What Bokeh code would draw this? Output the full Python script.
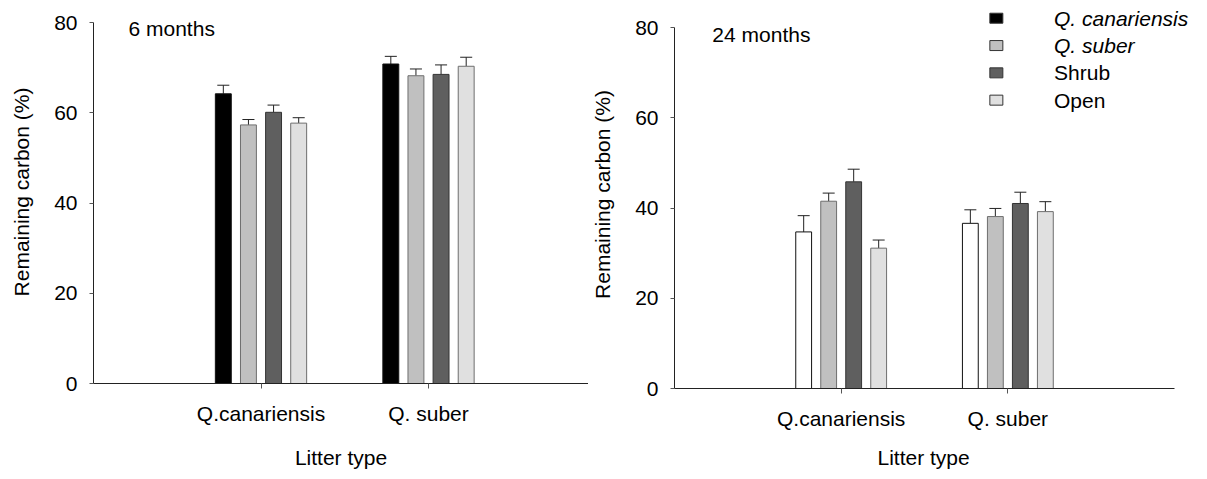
from bokeh.plotting import figure
from bokeh.layouts import row, column
from bokeh.models import Range1d, FixedTicker, Label, ColumnDataSource, Title
from bokeh.embed import file_html
from bokeh.resources import INLINE

# ---------------- data ----------------
litter_types = ["Q.canariensis", "Q. suber"]
series = ["Q. canariensis", "Q. suber", "Shrub", "Open"]
series_italic = [True, True, False, False]
y_ticks = [0, 20, 40, 60, 80]

# 6 months: remaining carbon (%) per series, for each litter type
m6_canariensis = [64.2, 57.3, 60.1, 57.7]
m6_suber = [70.8, 68.2, 68.5, 70.3]
se6_canariensis = [1.9, 1.2, 1.6, 1.2]
se6_suber = [1.7, 1.5, 2.1, 2.0]

# 24 months
m24_canariensis = [34.7, 41.5, 45.8, 31.1]
m24_suber = [36.6, 38.1, 41.0, 39.2]
se24_canariensis = [3.6, 1.8, 2.8, 1.8]
se24_suber = [3.0, 1.8, 2.5, 2.2]

fills_6 = ["#000000", "#c0c0c0", "#5f5f5f", "#e0e0e0"]
fills_24 = ["#ffffff", "#c0c0c0", "#5f5f5f", "#e0e0e0"]
edges = ["#111111", "#6e6e6e", "#333333", "#6e6e6e"]
legend_fills = ["#000000", "#c0c0c0", "#5f5f5f", "#e0e0e0"]

FONT = "Liberation Sans"
FS = "21px"
BAR_W = 0.095
PITCH = 0.15
CAP = 0.036


def make_panel(width, height, mb_left, mb_bottom, x_end, y_end,
               means, ses, fills, tag, tag_x, tag_y, lab_std, xlab_std,
               use_axis_label=True):
    p = figure(width=width, height=height, output_backend="svg",
               toolbar_location=None, x_range=Range1d(0, x_end),
               y_range=Range1d(0, y_end), min_border_left=mb_left,
               min_border_right=0, min_border_top=0,
               min_border_bottom=mb_bottom)
    p.outline_line_color = None
    p.grid.visible = False

    xs, tops, cols, lcols, ups = [], [], [], [], []
    for gi, (mvals, svals) in enumerate(zip(means, ses)):
        for si in range(len(series)):
            xs.append(gi + 1 + (si - 1.5) * PITCH)
            tops.append(mvals[si])
            ups.append(mvals[si] + svals[si])
            cols.append(fills[si])
            lcols.append(edges[si])
    src = ColumnDataSource(dict(x=xs, top=tops, up=ups, fill=cols, line=lcols,
                                xl=[v - CAP for v in xs], xr=[v + CAP for v in xs]))
    p.segment(x0="x", y0="top", x1="x", y1="up", source=src,
              line_color="#222222", line_width=1)
    p.segment(x0="xl", y0="up", x1="xr", y1="up", source=src,
              line_color="#222222", line_width=1)
    p.vbar(x="x", top="top", bottom=0, width=BAR_W, source=src,
           fill_color="fill", line_color="line", line_width=1)

    p.xaxis.ticker = FixedTicker(ticks=[1, 2])
    p.xaxis.major_label_overrides = {1: litter_types[0], 2: litter_types[1]}
    if use_axis_label:
        p.xaxis.axis_label = "Litter type"
    p.xaxis.bounds = (0, min(3, x_end))
    p.yaxis.ticker = FixedTicker(ticks=y_ticks)
    p.yaxis.bounds = (0, 80)
    p.yaxis.axis_label = "Remaining carbon (%)"
    for ax in (p.xaxis, p.yaxis):
        ax.axis_line_color = "#222222"
        ax.major_tick_line_color = "#555555"
        ax.minor_tick_line_color = None
        ax.major_tick_in = 0
        ax.major_label_text_font = FONT
        ax.major_label_text_font_size = FS
        ax.major_label_text_color = "#000000"
        ax.axis_label_text_font = FONT
        ax.axis_label_text_font_size = FS
        ax.axis_label_text_font_style = "normal"
        ax.axis_label_text_color = "#000000"
    p.xaxis.major_tick_out = 5
    p.xaxis.major_label_standoff = 13
    p.xaxis.axis_label_standoff = xlab_std
    p.yaxis.major_tick_out = 4
    p.yaxis.major_label_standoff = 12
    p.yaxis.axis_label_standoff = lab_std

    p.add_layout(Label(x=tag_x, y=tag_y, text=tag, text_font=FONT,
                       text_font_size=FS, text_baseline="middle",
                       text_color="#000000"))
    return p


p1 = make_panel(588, 479, 93, 96, 495 / 167.5, 383 / 4.5125,
                [m6_canariensis, m6_suber], [se6_canariensis, se6_suber],
                fills_6, "6 months", 0.209, 78.7, 18, 18)
p2 = make_panel(619, 479, 84, 91, 535 / 167.3, 388 / 4.5125,
                [m24_canariensis, m24_suber], [se24_canariensis, se24_suber],
                fills_24, "24 months", 0.227, 78.45, 18, 17,
                use_axis_label=False)
# x-axis title of the right panel, centred under the axis (not the frame)
p2.add_layout(Title(text="Litter type", align="left", offset=203,
                    standoff=22, text_font=FONT, text_font_size=FS,
                    text_font_style="normal", text_color="#000000"), "below")

# legend (custom, to allow italic species names)
leg_y = [82.06, 76.0, 69.95, 63.9]
p2.rect(x=[1.931] * 4, y=leg_y, width=13, height=10, width_units="screen",
        height_units="screen", fill_color=legend_fills, line_color="#333333")
for name, it, yy in zip(series, series_italic, leg_y):
    p2.add_layout(Label(x=2.277, y=yy, text=name, text_font=FONT,
                        text_font_size=FS, text_baseline="middle",
                        text_color="#000000",
                        text_font_style="italic" if it else "normal"))

layout = row(column(p1), column(p2))
open("out.html", "w").write(file_html(layout, INLINE))
